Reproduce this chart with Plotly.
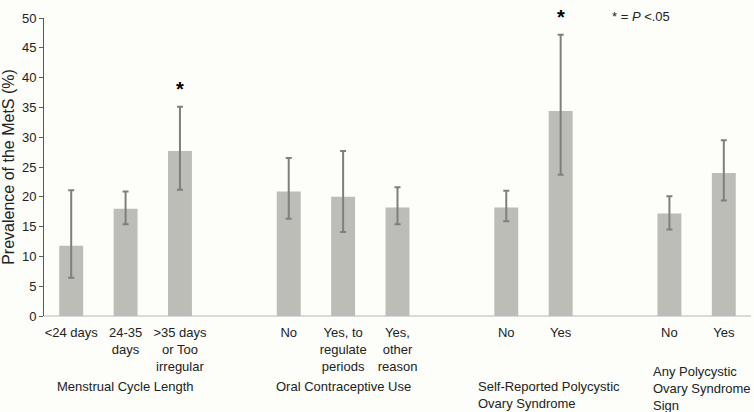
import plotly.graph_objects as go

# prevalence of MetS (%) with 95% CI
groups = [
    "Menstrual Cycle Length",
    "Oral Contraceptive Use",
    "Self-Reported Polycystic<br>Ovary Syndrome",
    "Any Polycystic<br>Ovary Syndrome<br>Sign",
]
labels = [
    ["<24 days", "24-35<br>days", ">35 days<br>or Too<br>irregular"],
    ["No", "Yes, to<br>regulate<br>periods", "Yes,<br>other<br>reason"],
    ["No", "Yes"],
    ["No", "Yes"],
]
prevalence = [
    [11.8, 18.0, 27.7],
    [20.9, 20.0, 18.2],
    [18.2, 34.4],
    [17.2, 24.0],
]
ci_upper = [
    [21.1, 20.9, 35.1],
    [26.5, 27.7, 21.6],
    [21.0, 47.2],
    [20.1, 29.5],
]
ci_lower = [
    [6.4, 15.4, 21.2],
    [16.3, 14.1, 15.4],
    [15.9, 23.7],
    [14.5, 19.4],
]
significant = [
    [False, False, True],
    [False, False, False],
    [False, True],
    [False, False],
]

YMAX = 50

# lay the bars out on a numeric axis, one empty slot between groups
xs, ys, ticks, up, down, stars, group_pos = [], [], [], [], [], [], []
slot = 0
for g in range(len(groups)):
    start = slot
    for i in range(len(labels[g])):
        xs.append(slot)
        ys.append(prevalence[g][i])
        ticks.append(labels[g][i])
        up.append(ci_upper[g][i] - prevalence[g][i])
        down.append(prevalence[g][i] - ci_lower[g][i])
        if significant[g][i]:
            stars.append((slot, ci_upper[g][i]))
        slot += 1
    group_pos.append((start, slot - 1))
    slot += 1
last = slot - 2

fig = go.Figure()
fig.add_trace(go.Bar(
    x=xs, y=ys, width=0.44,
    marker=dict(color="#bdbdb7", line=dict(width=0)),
    error_y=dict(type="data", symmetric=False, array=up, arrayminus=down,
                 color="#7f7f7f", thickness=2, width=3),
))

# asterisks above the significant bars (paper ref so the top one is not hidden)
for sx, sy in stars:
    fig.add_annotation(x=sx, y=(sy + 3.0) / YMAX, xref="x", yref="paper",
                       text="<b>*</b>", showarrow=False, yanchor="middle",
                       font=dict(size=20, color="#000000"))

# group captions: one-liners centred, wrapped ones left aligned (excel style)
label_shift = [0, 0, -0.56, -0.34]
for g, (a, b) in enumerate(group_pos):
    nlines = groups[g].count("<br>") + 1
    top = -0.205 + max(nlines - 2, 0) * 0.05
    if nlines == 1:
        fig.add_annotation(x=(a + b) / 2, y=top, xref="x", yref="paper",
                           text=groups[g], showarrow=False, xanchor="center",
                           yanchor="top")
    else:
        fig.add_annotation(x=a + label_shift[g], y=top, xref="x", yref="paper",
                           text=groups[g], showarrow=False, xanchor="left",
                           yanchor="top", align="left")

fig.add_annotation(x=0.888, y=1.037, xref="paper", yref="paper",
                   text="* = <i>P</i> <.05", showarrow=False)

fig.update_layout(
    width=754, height=412,
    margin=dict(l=44, r=3, t=18, b=96),
    paper_bgcolor="#fdfdf9", plot_bgcolor="#fdfdf9",
    font=dict(family="Liberation Sans, Arial, sans-serif", size=13, color="#222222"),
    showlegend=False,
    xaxis=dict(range=[-0.5, last + 0.5], tickvals=xs, ticktext=ticks,
               showgrid=False, zeroline=False, showline=False, ticks="",
               ticklabelstandoff=7, automargin=False),
    yaxis=dict(range=[0, YMAX], dtick=5, showgrid=False, zeroline=True,
               zerolinecolor="#d9d9d9", zerolinewidth=2,
               showline=True, linecolor="#595959", linewidth=1,
               ticks="outside", ticklen=4, tickcolor="#595959",
               automargin=False,
               title=dict(text="Prevalence of the MetS (%)", standoff=6)),
)

# the page body has a default 8px margin; drop it so the figure fills the window
fig.write_html("out.html", config={"displayModeBar": False},
               post_script="document.body.style.margin='0';")
